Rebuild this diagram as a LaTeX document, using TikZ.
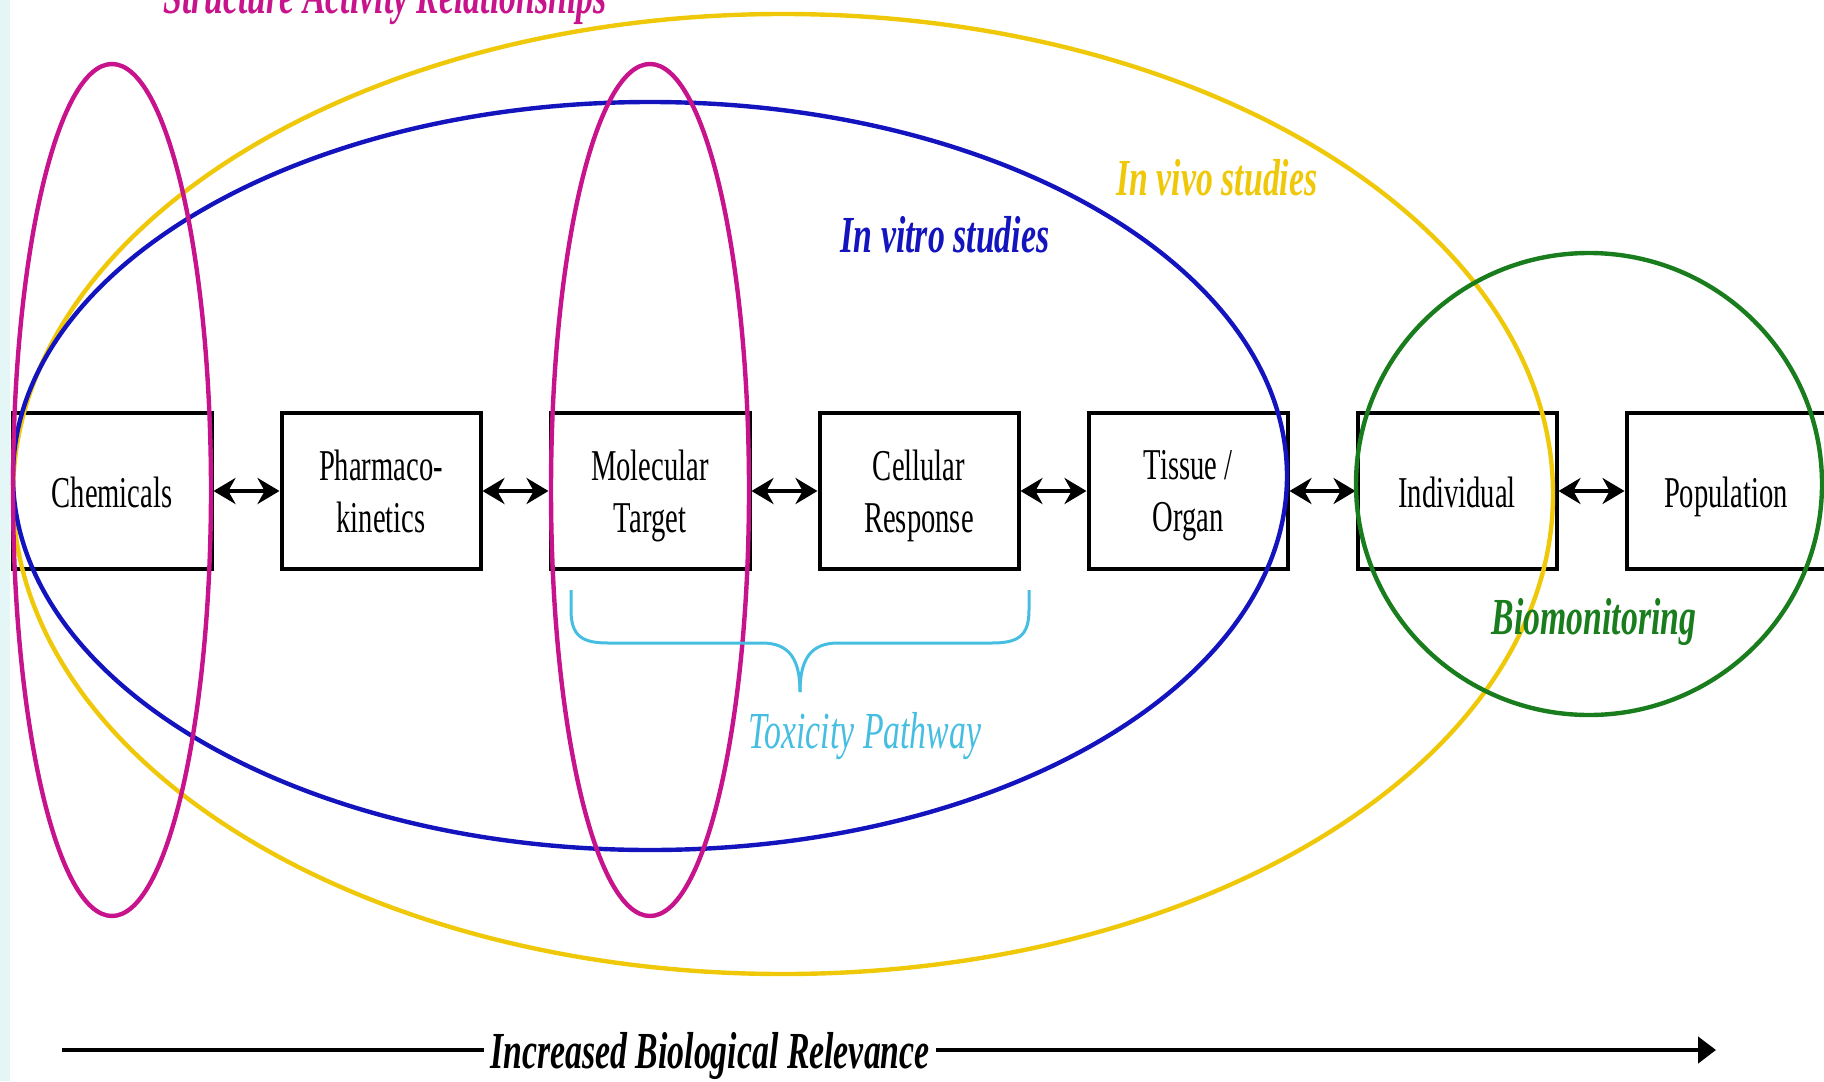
\documentclass[tikz,border=0pt]{standalone}
\usepackage{fontspec}
\usetikzlibrary{arrows.meta}
\newfontfamily\condserif[FakeStretch=0.65]{Liberation Serif}
\definecolor{sarmag}{RGB}{200,20,140}
\definecolor{vivo}{RGB}{240,200,10}
\definecolor{vitro}{RGB}{20,20,190}
\definecolor{biogreen}{RGB}{25,125,30}
\definecolor{toxcyan}{RGB}{70,190,225}
\definecolor{edgecyan}{RGB}{228,246,246}
\begin{document}
\begin{tikzpicture}[x=0.5pt,y=-0.5pt,
  stage/.style={draw=black,line width=2pt,minimum width=99.5pt,minimum height=78pt,inner sep=0pt,align=center,font=\condserif\fontsize{22}{26}\selectfont},
  oneline/.style={stage,text height=17.5pt,text depth=1pt},
  twoline/.style={stage,text depth=0pt},
  link/.style={{Stealth[length=11pt,width=13pt]}-{Stealth[length=11pt,width=13pt]},line width=1.8pt},
  ring/.style={line width=2.2pt},
  lab/.style={font=\condserif\bfseries\itshape\fontsize{26}{30}\selectfont,anchor=base,inner sep=0pt}]
\useasboundingbox (0,0) rectangle (1824,1081);
\fill[edgecyan] (0,0) rectangle (10,1081);
% stages
\node[oneline] (chem) at (112,491) {Chemicals};
\node[twoline] (pk)   at (381,491) {Pharmaco-\\kinetics};
\node[twoline] (mol)  at (650,491) {Molecular\\Target};
\node[twoline] (cell) at (919,491) {Cellular\\Response};
\node[twoline] (tis)  at (1188,491) {Tissue /\\Organ};
\node[oneline] (ind)  at (1457,491) {Individual};
\node[oneline] (pop)  at (1726,491) {Population};
\draw[link] (chem.east) -- (pk.west);
\draw[link] (pk.east) -- (mol.west);
\draw[link] (mol.east) -- (cell.west);
\draw[link] (cell.east) -- (tis.west);
\draw[link] (tis.east) -- (ind.west);
\draw[link] (ind.east) -- (pop.west);
% groupings
\draw[ring,vivo] (783,494) ellipse [x radius=385pt, y radius=240pt];
\draw[ring,vitro] (650,476) ellipse [x radius=318.5pt, y radius=187pt];
\draw[ring,sarmag] (112,490) ellipse [x radius=49.5pt, y radius=213pt];
\draw[ring,sarmag] (650,490) ellipse [x radius=49.5pt, y radius=213pt];
\draw[ring,biogreen] (1589,484) ellipse [x radius=116.5pt, y radius=115.5pt];
% brace
\coordinate (brL) at (571,590);
\coordinate (brR) at (1029,590);
\coordinate (brT) at (800,692);
\draw[toxcyan,line width=1.5pt] (brL) -- (571,610) .. controls (571,636) and (582,643) .. (608,643) -- (762,643) .. controls (790,643) and (800,660) .. (brT);
\draw[toxcyan,line width=1.5pt] (brR) -- (1029,610) .. controls (1029,636) and (1018,643) .. (992,643) -- (838,643) .. controls (810,643) and (800,660) .. (brT);
% labels
\node[lab,text=sarmag] (sar) at (385,14) {Structure Activity Relationships};
\node[lab,text=vivo] (vivolab) at (1217,195) {In vivo studies};
\node[lab,text=vitro] (vitrolab) at (945,252) {In vitro studies};
\node[lab,text=toxcyan,font=\condserif\itshape\fontsize{26}{30}\selectfont] (toxlab) at (865,748) {Toxicity Pathway};
\node[lab,text=biogreen] (biolab) at (1594,634) {Biomonitoring};
% relevance arrow
\node[lab,inner xsep=3pt] (rel) at (710,1068) {Increased Biological Relevance};
\coordinate (relstart) at (62,1050);
\coordinate (relend) at (1716,1050);
\draw[line width=2.4pt] (relstart) -- (rel.west |- relstart);
\draw[line width=2.4pt,-{Triangle[length=9pt,width=13pt]}] (rel.east |- relend) -- (relend);
\end{tikzpicture}
\end{document}
